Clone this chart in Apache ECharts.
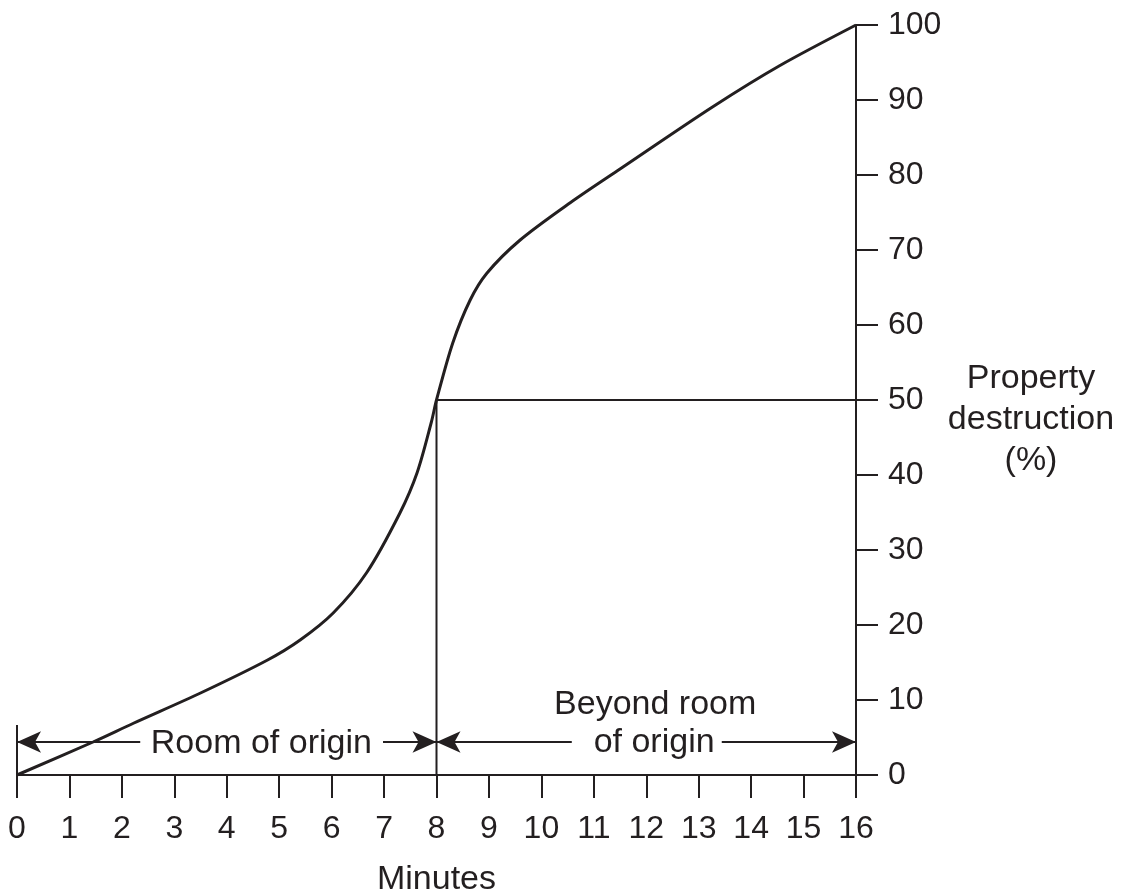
<!DOCTYPE html>
<html>
<head>
<meta charset="utf-8">
<script src="https://cdn.jsdelivr.net/npm/echarts@6/dist/echarts.min.js"></script>
<style>
html,body{margin:0;padding:0;background:#fff;}
#chart{width:1124px;height:893px;}
</style>
</head>
<body>
<div id="chart"></div>
<script>
// ---- data ----
const minutes = [0, 1.45, 2.22, 3.49, 4.77, 5.4, 6.03, 6.67, 7.3, 7.63, 7.9, 8.0, 8.31, 8.64, 8.96, 9.59, 10.55, 11.5, 13.27, 14.55, 16];
const destruction = [0, 4.4, 6.9, 10.9, 15.3, 18.0, 21.6, 27.0, 34.9, 40.3, 47.0, 50, 57.6, 63.3, 66.9, 71.3, 76.3, 80.8, 89.1, 94.6, 100];
const refX = [8, 8, 16];
const refY = [0, 50, 50];
const startBarX = [0, 0];
const startBarY = [0, 6.67];
const arrowLevel = 4.4;
const arrowSegments = [ // [from, to] where arrowhead is at "from"
  [0, 2.35], [8, 6.98], [8, 10.58], [16, 13.44]
];
const annotations = [
  { text: 'Room of origin', x: 4.66, y: 4.2 },
  { text: 'Beyond room', x: 12.17, y: 9.4 },
  { text: 'of origin', x: 12.15, y: 4.3 }
];
const xTicks = { min: 0, max: 16, interval: 1 };
const yTicks = { min: 0, max: 100, interval: 10 };

const INK = '#231f20';
const FONT = '"Liberation Sans", Arial, Helvetica, sans-serif';

const chart = echarts.init(document.getElementById('chart'));

const option = {
  backgroundColor: '#fff',
  animation: false,
  grid: { left: 17, right: 268, top: 25, bottom: 118, containLabel: false, outerBoundsMode: 'none' },
  xAxis: {
    type: 'value', min: xTicks.min, max: xTicks.max, interval: xTicks.interval,
    name: 'Minutes', nameLocation: 'middle', nameGap: 88,
    nameTextStyle: { color: INK, fontSize: 34, fontFamily: FONT },
    axisLine: { show: true, onZero: false, lineStyle: { color: INK, width: 2 } },
    axisTick: { show: true, length: 23, lineStyle: { color: INK, width: 2 } },
    axisLabel: { color: INK, fontSize: 32, fontFamily: FONT, margin: 38 },
    splitLine: { show: false }
  },
  yAxis: {
    type: 'value', position: 'right', min: yTicks.min, max: yTicks.max, interval: yTicks.interval,
    axisLine: { show: true, onZero: false, lineStyle: { color: INK, width: 2 } },
    axisTick: { show: true, length: 22, lineStyle: { color: INK, width: 2 } },
    axisLabel: { color: INK, fontSize: 32, fontFamily: FONT, margin: 32 },
    splitLine: { show: false }
  },
  series: [
    {
      type: 'line', name: 'curve',
      data: minutes.map((m, i) => [m, destruction[i]]),
      smooth: 0.3, showSymbol: false, symbol: 'none',
      lineStyle: { color: INK, width: 3 }, z: 5
    },
    {
      type: 'line', name: 'ref',
      data: refX.map((x, i) => [x, refY[i]]),
      showSymbol: false, symbol: 'none',
      lineStyle: { color: INK, width: 2 }, z: 4
    },
    {
      type: 'line', name: 'startbar',
      data: startBarX.map((x, i) => [x, startBarY[i]]),
      showSymbol: false, symbol: 'none',
      lineStyle: { color: INK, width: 2 }, z: 4,
      markLine: {
        silent: true, animation: false,
        lineStyle: { color: INK, width: 2, type: 'solid' },
        label: { show: false },
        data: arrowSegments.map(s => [
          { coord: [s[0], arrowLevel], symbol: 'arrow', symbolSize: [16, 24] },
          { coord: [s[1], arrowLevel], symbol: 'none' }
        ])
      }
    }
  ]
};
chart.setOption(option);

function placeTexts() {
  const g = annotations.map(a => {
    const p = chart.convertToPixel({ gridIndex: 0 }, [a.x, a.y]);
    return {
      type: 'text', x: p[0], y: p[1], z: 10,
      style: { text: a.text, fill: INK, font: '34px ' + FONT, textAlign: 'center', textVerticalAlign: 'middle' }
    };
  });
  g.push({
    type: 'text', x: 1031, y: 420, z: 10,
    style: { text: 'Property\ndestruction\n(%)', fill: INK, font: '34px ' + FONT,
      textAlign: 'center', textVerticalAlign: 'middle', lineHeight: 41 }
  });
  chart.setOption({ graphic: g });
}
placeTexts();
</script>
</body>
</html>
